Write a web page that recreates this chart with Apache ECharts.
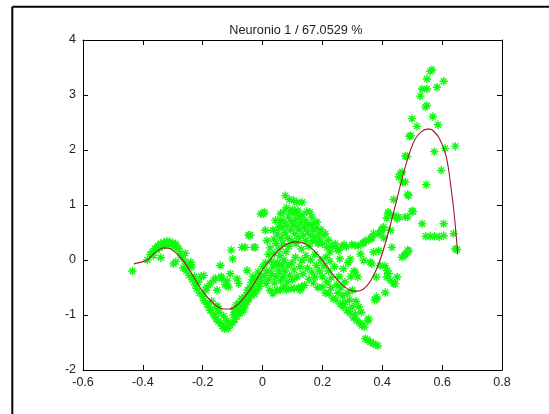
<!DOCTYPE html>
<html>
<head>
<meta charset="utf-8">
<script src="https://cdn.jsdelivr.net/npm/echarts@6/dist/echarts.min.js"></script>
<style>
html,body{margin:0;padding:0;background:#fff;}
#chart{width:549px;height:414px;}
</style>
</head>
<body>
<div id="chart"></div>
<script>
var titleText = "Neuronio 1 / 67.0529 %";
var xTicks = [-0.6, -0.4, -0.2, 0, 0.2, 0.4, 0.6, 0.8];
var yTicks = [-2, -1, 0, 1, 2, 3, 4];

var curveX = [-0.43,-0.40,-0.385,-0.37,-0.35,-0.33,-0.31,-0.29,-0.27,-0.25,-0.23,-0.21,-0.19,-0.17,-0.15,-0.13,-0.11,-0.09,-0.07,-0.05,-0.03,-0.01,0.01,0.03,0.05,0.07,0.09,0.11,0.13,0.15,0.17,0.19,0.21,0.23,0.25,0.27,0.29,0.31,0.33,0.35,0.37,0.39,0.41,0.43,0.45,0.47,0.49,0.51,0.53,0.55,0.56,0.57,0.59,0.61,0.62,0.63,0.64,0.65,0.652];
var curveY = [-0.07,-0.03,0.0,0.08,0.17,0.22,0.21,0.13,0.02,-0.13,-0.31,-0.49,-0.64,-0.76,-0.85,-0.89,-0.89,-0.84,-0.74,-0.60,-0.44,-0.26,-0.10,0.04,0.16,0.25,0.31,0.33,0.32,0.27,0.18,0.06,-0.08,-0.23,-0.36,-0.47,-0.54,-0.57,-0.55,-0.46,-0.29,-0.04,0.30,0.70,1.13,1.56,1.93,2.20,2.33,2.38,2.38,2.35,2.22,1.95,1.70,1.30,0.85,0.25,0.10];

var leftPeakPts = [[-0.435,-0.20],[-0.385,0.0],[-0.375,0.10],[-0.368,0.15],[-0.36,0.21],[-0.355,0.18],[-0.35,0.26],[-0.345,0.22],[-0.34,0.30],[-0.335,0.25],[-0.33,0.32],[-0.325,0.28],[-0.32,0.34],[-0.315,0.30],[-0.31,0.33],[-0.305,0.27],[-0.30,0.31],[-0.295,0.25],[-0.29,0.29],[-0.285,0.22],[-0.28,0.20],[-0.34,0.04],[-0.365,0.08],[-0.298,-0.07],[-0.29,-0.03],[-0.275,0.12],[-0.27,0.05],[-0.258,0.12],[-0.26,-0.02]];
var troughPts = [[-0.265,-0.14],[-0.255,-0.20],[-0.25,-0.10],[-0.245,-0.28],[-0.24,-0.04],[-0.236,-0.13],[-0.235,-0.36],[-0.228,-0.30],[-0.225,-0.45],[-0.22,-0.52],[-0.215,-0.40],[-0.21,-0.60],[-0.205,-0.30],[-0.20,-0.66],[-0.197,-0.28],[-0.195,-0.74],[-0.19,-0.55],[-0.186,-0.49],[-0.185,-0.80],[-0.18,-0.86],[-0.175,-0.43],[-0.175,-0.92],[-0.17,-0.75],[-0.165,-0.98],[-0.164,-0.37],[-0.16,-1.02],[-0.157,-0.33],[-0.155,-1.07],[-0.152,-0.55],[-0.15,-0.84],[-0.148,-1.12],[-0.145,-0.95],[-0.141,-0.10],[-0.14,-1.15],[-0.138,-0.30],[-0.136,-0.34],[-0.135,-1.20],[-0.13,-1.02],[-0.128,-1.25],[-0.125,-0.45],[-0.122,-1.22],[-0.12,-1.10],[-0.118,-0.38],[-0.115,-1.24],[-0.114,-0.49],[-0.11,-1.18],[-0.108,-0.25],[-0.105,0.18],[-0.10,0.02],[-0.10,-1.14],[-0.097,-1.0],[-0.095,-0.90],[-0.155,-0.85]];
var risePts = [[-0.092,-1.08],[-0.09,-0.95],[-0.088,-0.82],[-0.085,-0.34],[-0.085,-1.02],[-0.082,-0.88],[-0.08,-0.43],[-0.08,-0.97],[-0.078,-0.78],[-0.075,-0.92],[-0.072,-0.85],[-0.07,-0.70],[-0.069,0.23],[-0.068,-0.95],[-0.065,-0.80],[-0.062,-0.88],[-0.06,-0.72],[-0.058,0.23],[-0.057,-0.82],[-0.055,-0.64],[-0.052,-0.76],[-0.052,-0.19],[-0.05,-0.55],[-0.047,0.45],[-0.046,-0.70],[-0.045,-0.60],[-0.042,-0.50],[-0.041,0.45],[-0.04,-0.66],[-0.037,-0.40],[-0.035,-0.56],[-0.032,-0.30],[-0.03,0.23],[-0.03,-0.48],[-0.027,-0.62],[-0.025,-0.35],[-0.024,0.23],[-0.02,-0.42],[-0.018,-0.55],[-0.015,-0.22],[-0.012,-0.30],[-0.01,-0.48],[-0.006,0.84],[-0.005,-0.38],[0.0,-0.12],[0.003,0.84],[0.006,0.87],[0.005,-0.28],[0.009,0.54],[0.01,-0.05],[0.012,-0.43],[0.015,0.35],[0.015,-0.20],[0.02,0.10]];
var midUpperPts = [[0.025,0.22],[0.03,-0.02],[0.035,0.54],[0.038,0.38],[0.04,0.12],[0.043,0.72],[0.045,0.30],[0.048,-0.08],[0.05,0.48],[0.054,0.60],[0.055,0.20],[0.058,0.08],[0.059,0.72],[0.06,0.84],[0.062,0.40],[0.065,0.60],[0.068,0.30],[0.07,0.87],[0.072,0.70],[0.075,0.50],[0.076,1.17],[0.078,0.15],[0.08,0.95],[0.082,0.62],[0.084,0.40],[0.086,0.78],[0.088,0.25],[0.09,1.10],[0.092,0.88],[0.094,0.55],[0.096,0.70],[0.098,0.35],[0.10,0.92],[0.102,0.62],[0.104,1.08],[0.106,0.84],[0.108,0.48],[0.11,0.72],[0.112,0.30],[0.115,1.05],[0.116,0.60],[0.118,0.90],[0.12,0.40],[0.122,0.78],[0.125,0.55],[0.128,0.68],[0.13,0.20],[0.132,1.05],[0.134,0.82],[0.136,0.45],[0.14,0.60],[0.142,0.72],[0.145,0.35],[0.148,0.88],[0.15,0.52],[0.152,0.66],[0.155,0.25],[0.158,0.87],[0.16,0.45],[0.163,0.62],[0.165,0.78],[0.168,0.35],[0.17,0.55],[0.173,0.68],[0.176,0.42],[0.18,0.58],[0.182,0.69],[0.185,0.30],[0.188,0.48],[0.19,0.38],[0.195,0.55],[0.20,0.30],[0.205,0.45],[0.21,0.48],[0.215,0.23],[0.22,0.36],[0.225,0.15]];
var midLowerPts = [[0.02,-0.35],[0.025,-0.55],[0.03,-0.25],[0.035,-0.61],[0.035,-0.13],[0.04,-0.42],[0.045,-0.30],[0.048,-0.55],[0.05,-0.05],[0.055,-0.20],[0.059,-0.55],[0.06,-0.38],[0.065,-0.10],[0.068,-0.30],[0.07,-0.49],[0.072,0.0],[0.075,-0.20],[0.08,-0.54],[0.082,-0.40],[0.085,-0.10],[0.09,-0.28],[0.095,-0.52],[0.098,-0.05],[0.10,-0.36],[0.105,-0.18],[0.106,-0.52],[0.11,0.05],[0.115,-0.30],[0.12,-0.50],[0.125,-0.12],[0.126,-0.55],[0.129,-0.49],[0.132,-0.01],[0.135,-0.25],[0.14,-0.46],[0.145,0.08],[0.15,-0.15],[0.155,-0.35],[0.16,0.0],[0.165,-0.22],[0.17,-0.42],[0.175,-0.31],[0.175,0.10],[0.18,-0.10],[0.185,-0.50],[0.19,-0.20],[0.195,0.0],[0.199,-0.49]];
var valleyPts = [[0.20,-0.30],[0.205,-0.10],[0.21,-0.60],[0.212,0.05],[0.215,-0.40],[0.22,-0.20],[0.222,-0.61],[0.225,-0.02],[0.228,-0.50],[0.23,-0.32],[0.235,0.25],[0.236,-0.70],[0.24,-0.12],[0.243,0.29],[0.245,-0.73],[0.248,-0.45],[0.25,0.20],[0.252,-0.60],[0.254,0.17],[0.255,-0.30],[0.258,0.02],[0.26,-0.80],[0.262,-0.50],[0.265,0.25],[0.268,-0.65],[0.269,-0.85],[0.27,-0.16],[0.272,0.28],[0.275,-0.40],[0.276,-0.77],[0.28,0.24],[0.282,-0.92],[0.284,-0.60],[0.286,-0.05],[0.29,-0.72],[0.292,-0.97],[0.293,0.02],[0.295,-0.30],[0.298,0.28],[0.299,-0.86],[0.30,-0.55],[0.304,-1.05],[0.305,-0.20],[0.308,0.27],[0.31,-0.22],[0.31,-0.98],[0.312,-0.75],[0.315,-1.10],[0.318,-0.31],[0.32,0.26],[0.322,-0.85],[0.325,-1.15],[0.327,0.11],[0.33,-0.95],[0.332,-1.19],[0.335,0.30],[0.338,-0.01],[0.338,0.32],[0.34,-1.22]];
var rightRisePts = [[0.343,-1.43],[0.345,0.35],[0.35,-1.45],[0.352,-1.10],[0.354,-1.07],[0.355,0.36],[0.36,-1.49],[0.36,-0.04],[0.362,0.39],[0.365,-0.07],[0.366,0.41],[0.37,-1.52],[0.371,0.14],[0.371,0.48],[0.374,-0.73],[0.378,-1.54],[0.38,-0.67],[0.382,-0.71],[0.385,-1.56],[0.38,-0.31],[0.386,0.48],[0.388,0.17],[0.393,-0.10],[0.393,0.48],[0.397,0.54],[0.40,0.56],[0.404,0.60],[0.405,0.40],[0.409,-0.11],[0.41,-0.59],[0.415,-0.31],[0.415,0.76],[0.416,-0.19],[0.42,0.87],[0.421,0.84],[0.421,-0.25],[0.427,0.54],[0.427,-0.37],[0.432,0.23],[0.438,-0.43],[0.438,1.10],[0.438,0.81],[0.443,-0.43],[0.449,0.75],[0.45,-0.31],[0.455,0.78],[0.455,1.51],[0.46,1.57],[0.466,0.05],[0.466,1.60],[0.469,1.41],[0.472,0.08],[0.477,0.10],[0.477,0.78],[0.477,1.42],[0.477,1.89],[0.483,0.13],[0.483,1.88],[0.485,0.18],[0.485,0.78],[0.485,1.19],[0.488,0.16],[0.488,1.17],[0.491,2.25],[0.495,2.26],[0.499,0.89],[0.499,2.57],[0.503,0.88]];
var peakPts = [[0.516,2.43],[0.527,2.98],[0.533,3.11],[0.533,0.66],[0.544,2.78],[0.545,0.43],[0.547,1.37],[0.549,2.81],[0.549,3.11],[0.549,3.29],[0.56,0.43],[0.56,3.43],[0.566,3.46],[0.569,2.61],[0.574,1.97],[0.575,0.43],[0.583,3.14],[0.586,2.46],[0.59,0.42],[0.597,1.63],[0.605,3.25],[0.605,0.66],[0.605,0.44],[0.61,2.03],[0.638,0.48],[0.644,2.07],[0.644,0.20],[0.65,0.19]];

var scatterData = [].concat(leftPeakPts, troughPts, risePts, midUpperPts, midLowerPts, valleyPts, rightRisePts, peakPts);
var curveData = curveX.map(function (x, i) { return [x, curveY[i]]; });

var chart = echarts.init(document.getElementById('chart'), null, {renderer: 'canvas'});
var fontFam = 'Liberation Sans, Arial, Helvetica, sans-serif';
var lbl = function (v) { return String(Math.round(v * 10) / 10); };
function axisCommon(extra) {
  var base = {
    type: 'value',
    axisLine: {show: true, onZero: false, lineStyle: {color: '#000', width: 1}},
    axisTick: {show: true, inside: true, length: 5, lineStyle: {color: '#000', width: 1}},
    splitLine: {show: false}
  };
  for (var k in extra) base[k] = extra[k];
  return base;
}
chart.setOption({
  animation: false,
  backgroundColor: '#fff',
  title: {
    text: titleText,
    left: 291, top: 19,
    textAlign: 'center',
    textStyle: {fontFamily: fontFam, fontSize: 12.7, fontWeight: 'normal', color: '#222'}
  },
  grid: {left: 83, right: 47, top: 40, bottom: 44, containLabel: false},
  xAxis: [
    axisCommon({position: 'bottom', min: xTicks[0], max: xTicks[xTicks.length - 1], interval: 0.2,
      axisLabel: {show: true, margin: 6, fontFamily: fontFam, fontSize: 12.5, color: '#222', formatter: lbl}}),
    axisCommon({position: 'top', min: xTicks[0], max: xTicks[xTicks.length - 1], interval: 0.2,
      axisLabel: {show: false}})
  ],
  yAxis: [
    axisCommon({position: 'left', min: yTicks[0], max: yTicks[yTicks.length - 1], interval: 1,
      axisLabel: {show: true, margin: 7, fontFamily: fontFam, fontSize: 12.5, color: '#222'}}),
    axisCommon({position: 'right', min: yTicks[0], max: yTicks[yTicks.length - 1], interval: 1,
      axisLabel: {show: false}})
  ],
  graphic: [
    {type: 'line', shape: {x1: 12.3, y1: 6.7, x2: 549, y2: 6.7}, style: {stroke: '#000', lineWidth: 2}},
    {type: 'line', shape: {x1: 12.3, y1: 6.7, x2: 12.3, y2: 414}, style: {stroke: '#000', lineWidth: 2}}
  ],
  series: [
    {
      type: 'scatter',
      data: scatterData,
      symbol: 'path://M0,5L10,5M5,0L5,10M1.5,1.5L8.5,8.5M8.5,1.5L1.5,8.5',
      symbolSize: 8.5,
      itemStyle: {color: '#11f811', borderColor: '#11f811', borderWidth: 1.4, opacity: 1},
      z: 2
    },
    {
      type: 'line',
      data: curveData,
      showSymbol: false,
      smooth: 0.3,
      lineStyle: {color: '#9b1c2c', width: 1.1},
      z: 3
    }
  ]
});
</script>
</body>
</html>
